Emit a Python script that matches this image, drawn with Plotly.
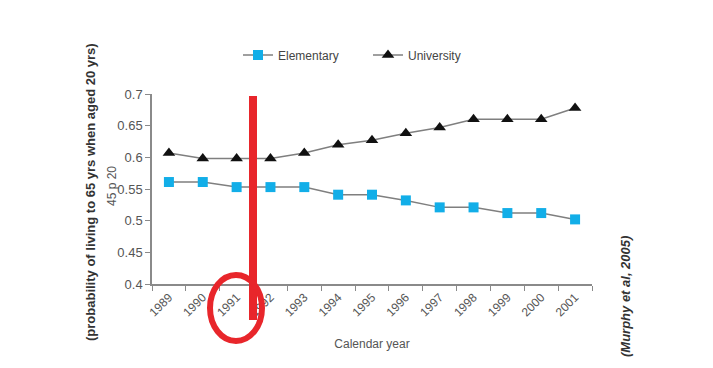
import plotly.graph_objects as go

years = ["1989", "1990", "1991", "1992", "1993", "1994", "1995",
         "1996", "1997", "1998", "1999", "2000", "2001"]
elementary = [0.561, 0.561, 0.553, 0.553, 0.553, 0.541, 0.541,
              0.532, 0.521, 0.521, 0.512, 0.512, 0.502]
university = [0.607, 0.598, 0.598, 0.598, 0.607, 0.620, 0.627,
              0.638, 0.647, 0.660, 0.660, 0.660, 0.678]
y_ticks = [0.4, 0.45, 0.5, 0.55, 0.6, 0.65, 0.7]
y_ticktext = ["0.4", "0.45", "0.5", "0.55", "0.6", "0.65", "0.7"]

FONT = "Liberation Sans, Arial, sans-serif"
GREY = "#555555"

fig = go.Figure()
fig.add_trace(go.Scatter(
    x=years, y=elementary, name="Elementary", mode="lines+markers",
    line=dict(color="#7f7f7f", width=1.5),
    marker=dict(symbol="square", size=10, color="#12aee8"),
))
fig.add_trace(go.Scatter(
    x=years, y=university, name="University", mode="lines+markers",
    line=dict(color="#7f7f7f", width=1.5),
    marker=dict(symbol="triangle-up", size=11, color="#111111"),
))

OFF = 8  # page body margin
W, H = 705, 360
L, T = 152 - OFF, 94 - OFF
pw, ph = 440, 190
R, B = W - L - pw, H - T - ph

def px(x):
    return (x - OFF - L) / pw

def py(y):
    return (T + ph - (y - OFF)) / ph

fig.update_layout(
    width=W, height=H,
    margin=dict(l=L, r=R, t=T, b=B),
    paper_bgcolor="white", plot_bgcolor="white",
    font=dict(family=FONT, size=12, color=GREY),
    showlegend=True,
    legend=dict(orientation="h", x=px(238), y=py(55), xanchor="left", yanchor="middle",
                entrywidth=85, entrywidthmode="pixels",
                font=dict(size=12, color="#444444"), bgcolor="rgba(0,0,0,0)"),
    xaxis=dict(type="category", range=[-0.5, 12.5], showgrid=False, zeroline=False,
               showline=True, linecolor="#8a8a8a", linewidth=1.5,
               ticks="outside", tickson="boundaries", ticklen=5, tickcolor="#8a8a8a",
               tickangle=-45, tickfont=dict(size=12, color=GREY),
               title=dict(text="Calendar year", font=dict(size=12, color=GREY), standoff=21)),
    yaxis=dict(range=[0.4, 0.7], showgrid=False, zeroline=False,
               showline=True, linecolor="#8a8a8a", linewidth=1.5,
               ticks="outside", ticklen=5, tickcolor="#8a8a8a",
               tickvals=y_ticks, ticktext=y_ticktext,
               tickfont=dict(size=13, color=GREY)),
)

fig.add_annotation(xref="paper", yref="paper", x=px(90), y=py(192),
                   text="<b>(probability of living to 65 yrs when aged 20 yrs)</b>",
                   textangle=-90, showarrow=False, xanchor="center", yanchor="middle",
                   font=dict(size=13, color="#333333"))
fig.add_annotation(xref="paper", yref="paper", x=px(112), y=py(186),
                   text="45 p 20", textangle=-90, showarrow=False,
                   xanchor="center", yanchor="middle",
                   font=dict(size=12, color=GREY))
fig.add_annotation(xref="paper", yref="paper", x=px(625), y=py(297),
                   text="<b><i>(Murphy et al, 2005)</i></b>", textangle=-90, showarrow=False,
                   xanchor="center", yanchor="middle",
                   font=dict(size=13, color="#333333"))

# red hand-drawn highlight
fig.add_shape(type="line", xref="paper", yref="paper",
              x0=px(253), x1=px(253), y0=py(96), y1=py(320),
              line=dict(color="#e8262b", width=8))
fig.add_shape(type="circle", xref="paper", yref="paper",
              x0=px(210), x1=px(262), y0=py(275), y1=py(341),
              line=dict(color="#e8262b", width=6))

fig.write_html("out.html")
